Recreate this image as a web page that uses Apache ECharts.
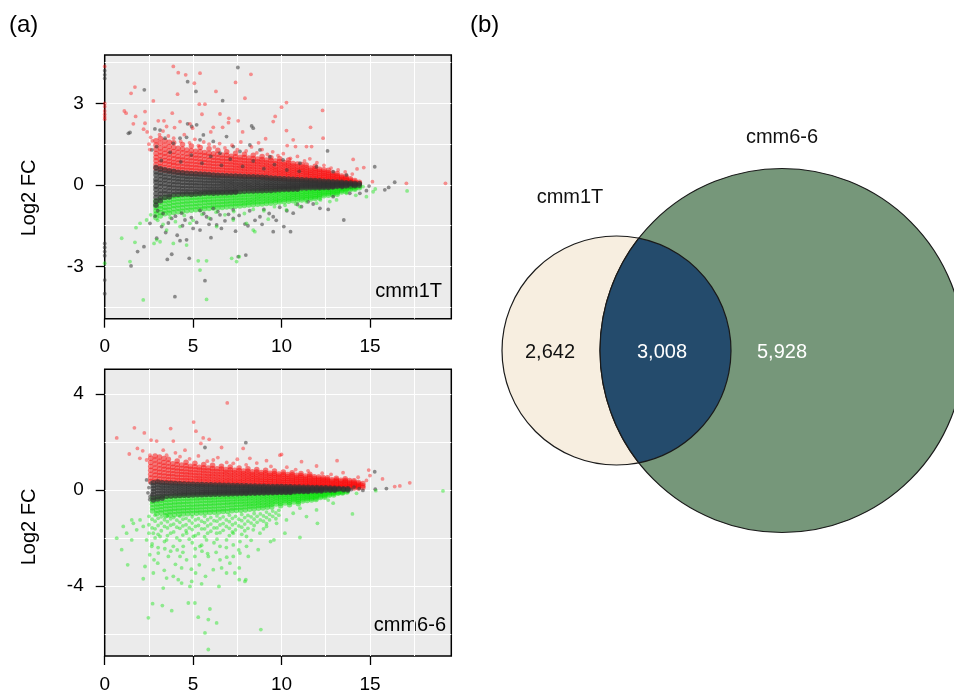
<!DOCTYPE html>
<html><head><meta charset="utf-8">
<script src="https://cdn.jsdelivr.net/npm/echarts@6/dist/echarts.min.js"></script>
<style>html,body{margin:0;padding:0;background:#fff}#c{width:954px;height:691px}</style>
</head><body><div id="c"></div>
<script>
// ---------- axis ticks / grid values ----------
const xTicks = [0, 5, 10, 15];
const xGridVals = [2.5, 5, 7.5, 10, 12.5, 15, 17.5];
const topYTicks = [-3, 0, 3];
const topYGridVals = [-4.5, -3, -1.5, 0, 1.5, 3, 4.5];
const botYTicks = [-4, 0, 4];
const botYGridVals = [-6, -4, -2, 0, 2, 4];
const panelNames = ['cmm1T', 'cmm6-6'];
const yAxisTitle = 'Log2 FC';

// ---------- Venn data ----------
const vennSets = ['cmm1T', 'cmm6-6'];
const vennCounts = [2642, 3008, 5928]; // cmm1T only, both, cmm6-6 only

// ---------- panel (a) top: cmm1T  (A, log2FC) ----------
// dense band columns: [A, [log2FC values]]
const topGrayCols = [
[2.9,[0.64,0.49,0.37,0.21,0.1,-0.05,-0.17,-0.32,-0.46,-0.61,-0.75]],
[3.15,[0.6,0.46,0.34,0.2,0.06,-0.06,-0.2,-0.33,-0.46,-0.58]],
[3.4,[0.56,0.42,0.29,0.18,0.05,-0.08,-0.21,-0.32,-0.46]],
[3.65,[0.52,0.41,0.27,0.15,0.02,-0.09,-0.22,-0.35,-0.44]],
[3.9,[0.5,0.37,0.26,0.13,0.01,-0.11,-0.24,-0.36]],
[4.15,[0.47,0.35,0.23,0.12,0.0,-0.12,-0.24,-0.35]],
[4.4,[0.45,0.34,0.22,0.1,-0.02,-0.13,-0.25,-0.34]],
[4.65,[0.43,0.31,0.21,0.09,-0.02,-0.14,-0.25,-0.33]],
[4.9,[0.42,0.31,0.19,0.08,-0.03,-0.14,-0.26,-0.35]],
[5.15,[0.41,0.3,0.19,0.07,-0.03,-0.15,-0.25,-0.33]],
[5.4,[0.4,0.29,0.18,0.07,-0.04,-0.15,-0.26,-0.32]],
[5.65,[0.39,0.28,0.17,0.06,-0.04,-0.15,-0.25,-0.31]],
[5.9,[0.38,0.27,0.16,0.06,-0.05,-0.15,-0.25,-0.3]],
[6.15,[0.37,0.26,0.16,0.05,-0.05,-0.15,-0.24,-0.31]],
[6.4,[0.36,0.26,0.15,0.05,-0.05,-0.15,-0.24,-0.3]],
[6.65,[0.35,0.25,0.14,0.05,-0.05,-0.14,-0.24,-0.29]],
[6.9,[0.34,0.24,0.14,0.04,-0.06,-0.14,-0.23,-0.29]],
[7.15,[0.33,0.23,0.13,0.04,-0.05,-0.14,-0.23,-0.28]],
[7.4,[0.33,0.22,0.13,0.03,-0.06,-0.15,-0.23,-0.27]],
[7.65,[0.32,0.22,0.12,0.03,-0.06,-0.15,-0.24]],
[7.9,[0.31,0.21,0.12,0.03,-0.06,-0.14,-0.23]],
[8.15,[0.3,0.21,0.11,0.02,-0.06,-0.14,-0.22]],
[8.4,[0.3,0.2,0.11,0.02,-0.07,-0.14,-0.22]],
[8.65,[0.29,0.19,0.1,0.02,-0.06,-0.14,-0.21]],
[8.9,[0.28,0.19,0.1,0.01,-0.07,-0.14,-0.21]],
[9.15,[0.27,0.18,0.09,0.01,-0.06,-0.13,-0.2]],
[9.4,[0.26,0.17,0.09,0.01,-0.06,-0.13,-0.2]],
[9.65,[0.25,0.17,0.08,0.01,-0.06,-0.13,-0.19]],
[9.9,[0.24,0.16,0.08,0.0,-0.06,-0.12,-0.18]],
[10.15,[0.23,0.15,0.07,0.0,-0.06,-0.12,-0.17]],
[10.4,[0.22,0.14,0.07,0.0,-0.06,-0.12,-0.17]],
[10.65,[0.21,0.14,0.06,0.0,-0.06,-0.11,-0.16]],
[10.9,[0.2,0.13,0.06,-0.01,-0.06,-0.11,-0.16]],
[11.15,[0.19,0.12,0.05,-0.01,-0.06,-0.11]],
[11.4,[0.18,0.11,0.05,-0.01,-0.06,-0.11]],
[11.65,[0.17,0.11,0.04,-0.01,-0.06,-0.1]],
[11.9,[0.16,0.1,0.04,-0.01,-0.06,-0.1]],
[12.15,[0.15,0.09,0.03,-0.02,-0.06,-0.1]],
[12.4,[0.14,0.08,0.03,-0.02,-0.05,-0.09]],
[12.65,[0.13,0.08,0.03,-0.02,-0.05,-0.09]],
[12.9,[0.12,0.07,0.02,-0.02,-0.05,-0.08]],
[13.15,[0.11,0.06,0.02,-0.02,-0.06]],
[13.4,[0.1,0.05,0.01,-0.03,-0.07]],
[13.65,[0.08,0.04,0.0,-0.04]],
[13.9,[0.07,0.03,-0.01,-0.05]],
[14.15,[0.05,0.01,-0.03]],
[14.4,[0.04,-0.01]]
];
const topRedCols = [
[2.9,[0.61,0.74,0.89,1.02,1.16,1.31,1.47,1.63]],
[3.15,[0.56,0.68,0.81,0.93,1.07,1.21,1.36,1.53,1.71]],
[3.4,[0.53,0.64,0.78,0.9,1.04,1.17,1.31,1.46,1.63]],
[3.65,[0.5,0.62,0.75,0.87,0.99,1.13,1.26,1.41,1.57]],
[3.9,[0.48,0.59,0.72,0.83,0.96,1.09,1.23,1.38,1.55]],
[4.15,[0.46,0.57,0.69,0.81,0.94,1.06,1.2,1.35]],
[4.4,[0.44,0.56,0.67,0.8,0.92,1.04,1.18,1.32,1.49]],
[4.65,[0.43,0.54,0.66,0.77,0.89,1.02,1.15,1.29]],
[4.9,[0.41,0.53,0.64,0.76,0.88,1.0,1.13,1.27,1.43]],
[5.15,[0.4,0.51,0.63,0.74,0.86,0.98,1.1,1.24]],
[5.4,[0.39,0.5,0.61,0.73,0.84,0.96,1.09,1.22,1.38]],
[5.65,[0.38,0.49,0.6,0.71,0.83,0.94,1.07,1.19]],
[5.9,[0.37,0.48,0.59,0.7,0.81,0.92,1.05,1.17,1.33]],
[6.15,[0.36,0.47,0.57,0.68,0.79,0.9,1.02,1.15]],
[6.4,[0.35,0.46,0.56,0.67,0.78,0.89,1.0,1.13,1.28]],
[6.65,[0.34,0.45,0.55,0.66,0.76,0.87,0.98,1.1]],
[6.9,[0.34,0.44,0.54,0.64,0.75,0.86,0.97,1.09,1.22]],
[7.15,[0.33,0.43,0.53,0.63,0.74,0.84,0.95,1.06]],
[7.4,[0.32,0.42,0.52,0.62,0.72,0.83,0.93,1.04,1.17]],
[7.65,[0.31,0.41,0.51,0.61,0.71,0.81,0.92,1.02]],
[7.9,[0.3,0.4,0.5,0.6,0.7,0.8,0.9,1.01,1.13]],
[8.15,[0.3,0.39,0.49,0.59,0.68,0.78,0.88,0.99]],
[8.4,[0.29,0.38,0.48,0.58,0.67,0.77,0.87,0.97,1.09]],
[8.65,[0.28,0.37,0.47,0.56,0.66,0.76,0.85,0.95]],
[8.9,[0.27,0.36,0.46,0.55,0.65,0.74,0.84,0.94,1.05]],
[9.15,[0.26,0.35,0.44,0.53,0.63,0.72,0.82,0.92]],
[9.4,[0.25,0.34,0.43,0.52,0.61,0.7,0.8,0.9,1.0]],
[9.65,[0.24,0.33,0.42,0.51,0.59,0.68,0.78,0.88]],
[9.9,[0.23,0.32,0.41,0.49,0.58,0.67,0.76,0.86,0.96]],
[10.15,[0.22,0.31,0.39,0.48,0.56,0.65,0.74,0.83]],
[10.4,[0.21,0.3,0.38,0.46,0.55,0.63,0.72,0.81,0.92]],
[10.65,[0.2,0.28,0.37,0.45,0.53,0.61,0.7,0.79]],
[10.9,[0.19,0.27,0.35,0.43,0.51,0.59,0.68,0.77]],
[11.15,[0.18,0.26,0.34,0.42,0.5,0.58,0.66,0.75]],
[11.4,[0.17,0.25,0.33,0.4,0.48,0.56,0.64,0.73]],
[11.65,[0.16,0.24,0.31,0.39,0.46,0.54,0.62]],
[11.9,[0.15,0.23,0.3,0.37,0.45,0.52,0.6,0.69]],
[12.15,[0.14,0.21,0.28,0.35,0.43,0.5,0.58]],
[12.4,[0.13,0.2,0.27,0.34,0.41,0.48,0.56]],
[12.65,[0.12,0.19,0.26,0.32,0.39,0.46,0.54]],
[12.9,[0.11,0.18,0.24,0.31,0.37,0.44]],
[13.15,[0.1,0.16,0.22,0.29,0.35,0.42]],
[13.4,[0.09,0.15,0.21,0.27,0.33]],
[13.65,[0.08,0.14,0.19,0.25,0.31]],
[13.9,[0.07,0.12,0.17,0.23]],
[14.15,[0.06,0.11,0.16]],
[14.4,[0.05,0.1]]
];
const topGreenCols = [
[2.9,[-0.58,-0.71,-0.83,-0.95,-1.07,-1.21]],
[3.15,[-0.52,-0.64,-0.77,-0.88,-1.01,-1.14]],
[3.4,[-0.45,-0.57,-0.69,-0.82,-0.93,-1.06]],
[3.65,[-0.43,-0.55,-0.67,-0.79,-0.92,-1.04]],
[3.9,[-0.41,-0.52,-0.64,-0.76,-0.88,-1.01]],
[4.15,[-0.39,-0.5,-0.62,-0.74,-0.86,-0.99]],
[4.4,[-0.37,-0.48,-0.6,-0.72,-0.84,-0.97]],
[4.65,[-0.36,-0.47,-0.59,-0.7,-0.82,-0.95]],
[4.9,[-0.35,-0.46,-0.57,-0.69,-0.81,-0.93]],
[5.15,[-0.34,-0.45,-0.56,-0.68,-0.79,-0.91]],
[5.4,[-0.33,-0.44,-0.55,-0.66,-0.78,-0.9]],
[5.65,[-0.32,-0.43,-0.54,-0.65,-0.77,-0.88]],
[5.9,[-0.32,-0.42,-0.53,-0.64,-0.75,-0.87]],
[6.15,[-0.31,-0.41,-0.52,-0.63,-0.74,-0.85]],
[6.4,[-0.3,-0.4,-0.51,-0.62,-0.73,-0.84]],
[6.65,[-0.3,-0.4,-0.5,-0.61,-0.72,-0.83]],
[6.9,[-0.29,-0.39,-0.49,-0.6,-0.7,-0.81]],
[7.15,[-0.28,-0.38,-0.48,-0.59,-0.69,-0.8]],
[7.4,[-0.28,-0.38,-0.48,-0.58,-0.68,-0.78]],
[7.65,[-0.27,-0.37,-0.47,-0.57,-0.67,-0.77]],
[7.9,[-0.26,-0.36,-0.46,-0.56,-0.66,-0.76]],
[8.15,[-0.25,-0.35,-0.45,-0.55,-0.65,-0.74]],
[8.4,[-0.25,-0.34,-0.44,-0.54,-0.63,-0.73]],
[8.65,[-0.24,-0.33,-0.43,-0.52,-0.62,-0.71]],
[8.9,[-0.23,-0.32,-0.42,-0.51,-0.61,-0.7]],
[9.15,[-0.22,-0.31,-0.41,-0.5,-0.59,-0.68]],
[9.4,[-0.22,-0.31,-0.4,-0.49,-0.58,-0.67]],
[9.65,[-0.21,-0.3,-0.39,-0.48,-0.56,-0.65]],
[9.9,[-0.2,-0.29,-0.37,-0.46,-0.55,-0.63]],
[10.15,[-0.19,-0.28,-0.36,-0.45,-0.53,-0.62]],
[10.4,[-0.18,-0.27,-0.35,-0.44,-0.52,-0.6]],
[10.65,[-0.18,-0.26,-0.34,-0.42,-0.5,-0.58]],
[10.9,[-0.17,-0.25,-0.33,-0.41,-0.49,-0.57]],
[11.15,[-0.16,-0.24,-0.32,-0.4,-0.48,-0.55]],
[11.4,[-0.15,-0.23,-0.31,-0.38,-0.46,-0.53]],
[11.65,[-0.15,-0.22,-0.3,-0.37,-0.45,-0.52]],
[11.9,[-0.14,-0.21,-0.28,-0.36,-0.43,-0.5]],
[12.15,[-0.13,-0.2,-0.27,-0.34,-0.41,-0.48]],
[12.4,[-0.12,-0.19,-0.26,-0.33,-0.4]],
[12.65,[-0.11,-0.18,-0.25,-0.31,-0.38]],
[12.9,[-0.1,-0.17,-0.23,-0.3,-0.36]],
[13.15,[-0.09,-0.15,-0.22,-0.28,-0.34]],
[13.4,[-0.08,-0.14,-0.2,-0.26]],
[13.65,[-0.07,-0.13,-0.18,-0.24]],
[13.9,[-0.07,-0.12,-0.17]],
[14.15,[-0.06,-0.11,-0.16]],
[14.4,[-0.05,-0.1]]
];
// scattered points: [A, log2FC]
const topGrayPts = [
[0,4.2],[0,4.05],[0,3.92],[0,-2.15],[0,-2.3],[0,-2.45],[0,-2.6],[0,-3.5],[0,-4.0],
[7.53,4.32],[4.69,3.8],[5.16,3.44],[2.24,3.5],[6.67,3.1],[1.34,1.9],[1.43,1.93],[2.84,2.06],[4.69,2.25],[5.2,2.21],[8.31,2.17],[8.4,2.09],[12.6,1.25],[15.27,0.67],[16.4,0.1],[16.06,-0.09],[15.84,-0.18],[14.95,-0.04],
[13.52,-1.29],[12.64,-0.9],[10.51,-1.72],[9.53,-1.72],[10.13,-1.53],[7.98,-2.58],[7.55,-2.64],[6.01,-1.94],[5.67,-3.52],[4.78,-2.7],[3.79,-2.55],[3.54,-2.74],[3.97,-4.11],[2.22,-2.27],[1.86,-2.45],[1.49,-2.98],[4.63,-2.02],[4.26,-2.05],[2.94,-1.96],[3.22,-1.53],[2.56,-1.41],[5.39,-1.66],[6.33,-1.47],[7.27,-1.23],[8.78,-1.17],[7.93,-1.44],[4.54,-1.29],[3.79,-1.23],[11.13,-0.8],[11.79,-0.7],[12.92,-0.43],[13.86,-0.31],[14.43,-0.31],[14.8,-0.21],[12.17,-0.86],[10.66,-1.04],[9.53,-1.17],[6.52,-1.1],[5.76,-1.17],[4.35,-1.04],[5.39,-0.94],[7.27,-0.92],[6.14,-0.86],
[4.26,1.72],[4.63,1.75],[5.39,1.66],[6.14,1.6],[7.27,1.41],[8.21,1.47],[8.78,1.29],[9.34,1.04],[10.09,0.92],[11.04,0.8],[11.98,0.67],[12.92,0.49],[13.67,0.37],[3.13,2.02],[3.41,1.72],[2.94,1.41],[2.66,1.29],[3.88,1.53],[4.92,2.15],[5.58,1.84],[6.89,1.78],[7.65,1.23],[6.52,1.17],
[3.3,-1.05],[3.6,-1.4],[4.0,-1.15],[4.4,-1.5],[4.9,-1.2],[5.2,-1.38],[5.6,-1.05],[6.0,-1.25],[6.4,-0.98],[6.8,-1.32],[7.0,-1.08],[7.6,-1.12],[8.2,-0.95],[8.5,-1.3],[9.0,-0.9],[9.3,-1.05],[9.9,-0.82],[10.3,-0.95],[10.9,-0.72],[11.5,-0.62],[3.0,-0.95],[2.85,-1.15],[3.45,-1.75],[4.1,-1.85],[5.0,-1.6],[5.9,-1.45],[6.6,-1.6],[7.4,-1.7],[8.1,-1.5],[8.9,-1.45],[9.7,-1.3],
[3.2,0.9],[3.7,1.2],[4.3,0.85],[4.9,1.1],[5.5,0.8],[6.0,1.05],[6.6,0.72],[7.1,0.95],[7.8,0.68],[8.4,0.88],[9.0,0.6],[9.6,0.75],[10.3,0.55],[11.0,0.5]
];
const topRedPts = [
[0,4.36],[0,3.0],[0,2.88],[0,2.72],[0,2.6],[0,2.5],[0,2.42],
[3.88,4.36],[4.16,4.13],[4.58,4.05],[5.39,4.11],[5.07,3.74],[8.27,4.07],[7.93,3.19],[7.4,3.77],[6.29,3.44],[4.12,3.34],[5.35,2.97],[5.67,2.97],[2.75,3.09],[1.71,3.6],[1.49,3.37],[1.11,2.72],[1.21,2.64],[1.75,2.52],[1.62,2.25],[2.28,2.7],[2.28,2.27],[3.03,2.36],[3.35,2.36],[3.82,2.64],[3.95,2.11],[4.26,2.33],[4.82,2.25],[4.97,2.09],[5.5,2.6],[6.52,2.61],[7.02,2.45],[7.0,2.29],[7.55,2.36],[6.67,2.12],[6.14,2.12],[10.0,2.86],[10.28,3.03],[9.64,2.52],[9.53,2.33],[12.32,2.74],[11.64,2.12],[12.35,1.72],[10.28,2.0],[10.66,1.66],[10.32,1.45],[10.79,1.41],[11.41,1.41],[11.7,1.41],[14.05,0.94],[14.27,0.59],[14.65,0.64],[15.14,0.12],[17.06,0.06],[19.27,0.06],
[2.4,1.95],[2.6,1.75],[2.5,1.5],[2.7,1.62],[3.1,1.85],[3.3,1.98],[3.6,1.8],[3.9,1.72],[4.3,1.6],[4.5,1.85],[4.8,1.55],[5.1,1.68],[5.3,1.45],[5.6,1.58],[5.9,1.5],[6.2,1.4],[6.5,1.52],[6.8,1.36],[7.2,1.46],[7.5,1.3],[7.7,1.58],[8.0,1.25],[8.3,1.4],[8.6,1.18],[8.9,1.3],[9.2,1.12],[9.5,1.22],[9.8,1.08],[10.1,1.15],[10.5,0.98],[10.9,1.05],[11.3,0.88],[11.6,0.96],[12.0,0.82],[12.4,0.72],[12.8,0.62],[13.2,0.55],[13.6,0.48],[14.0,0.4],[2.2,2.05],[3.5,2.15],[2.55,1.3],[7.8,1.95],[9.1,1.7],[6.0,1.95],[8.7,1.55]
];
const topGreenPts = [
[0,-2.88],[0.96,-1.96],[1.71,-2.11],[1.43,-2.82],[2.18,-4.23],[5.76,-4.21],[5.39,-3.13],[5.29,-2.79],[5.76,-2.79],[7.18,-2.7],[7.46,-2.82],[7.61,-2.64],[8.49,-1.72],[8.4,-1.66],[9.25,-1.26],[3.13,-2.09],[2.79,-2.15],[2.94,-2.02],[3.88,-2.15],[4.63,-2.21],[1.77,-1.57],[2.0,-1.41],[2.37,-1.29],[13.3,-0.18],[13.67,-0.31],[14.8,-0.43],[15.18,-0.25],[17.1,-0.22],[14.61,-0.06],[12.73,-0.61],[13.11,-0.55],[11.98,-0.67],[11.04,-0.8],[10.28,-0.92],[8.02,-1.41],[7.27,-1.29],[6.33,-1.53],[4.82,-1.41],[4.26,-1.53],[3.5,-1.66],
[2.6,-1.1],[3.0,-1.3],[3.3,-1.45],[3.7,-1.2],[4.0,-1.35],[4.5,-1.12],[5.0,-1.3],[5.5,-1.08],[5.9,-1.22],[6.3,-1.0],[6.8,-1.1],[7.3,-0.98],[7.9,-1.05],[8.4,-0.9],[9.0,-0.95],[9.6,-0.8],[10.2,-0.75],[10.8,-0.7],[11.4,-0.62],[12.2,-0.55],[15.3,-0.15],[14.2,-0.38],[13.9,-0.12]
];

// ---------- panel (a) bottom: cmm6-6 ----------
const botGrayCols = [
[2.75,[0.3,0.18,0.06,-0.06,-0.18,-0.3,-0.42]],
[3.0,[0.33,0.21,0.09,-0.03,-0.15,-0.27,-0.38]],
[3.25,[0.3,0.19,0.08,-0.03,-0.14,-0.25,-0.34]],
[3.5,[0.29,0.18,0.07,-0.04,-0.15,-0.26]],
[3.75,[0.28,0.17,0.07,-0.04,-0.14,-0.25]],
[4.0,[0.27,0.17,0.06,-0.04,-0.14,-0.24]],
[4.25,[0.26,0.16,0.06,-0.04,-0.14,-0.23]],
[4.5,[0.25,0.15,0.05,-0.05,-0.14,-0.22]],
[4.75,[0.24,0.15,0.05,-0.04,-0.13,-0.22]],
[5.0,[0.24,0.14,0.05,-0.04,-0.13,-0.21]],
[5.25,[0.23,0.14,0.05,-0.04,-0.13,-0.2]],
[5.5,[0.23,0.14,0.05,-0.04,-0.12,-0.2]],
[5.75,[0.22,0.13,0.04,-0.04,-0.12,-0.19]],
[6.0,[0.22,0.13,0.04,-0.04,-0.12,-0.19]],
[6.25,[0.21,0.12,0.04,-0.04,-0.12,-0.18]],
[6.5,[0.21,0.12,0.04,-0.04,-0.11,-0.18]],
[6.75,[0.2,0.12,0.04,-0.04,-0.11,-0.17]],
[7.0,[0.2,0.11,0.03,-0.04,-0.11,-0.17]],
[7.25,[0.19,0.11,0.03,-0.04,-0.11,-0.16]],
[7.5,[0.19,0.11,0.03,-0.04,-0.1,-0.16]],
[7.75,[0.18,0.1,0.03,-0.04,-0.1,-0.15]],
[8.0,[0.18,0.1,0.03,-0.04,-0.1,-0.15]],
[8.25,[0.17,0.1,0.03,-0.03,-0.09,-0.14]],
[8.5,[0.17,0.09,0.03,-0.03,-0.09,-0.14]],
[8.75,[0.16,0.09,0.02,-0.03,-0.09,-0.13]],
[9.0,[0.16,0.09,0.02,-0.03,-0.08,-0.13]],
[9.25,[0.15,0.08,0.02,-0.03,-0.08,-0.12]],
[9.5,[0.15,0.08,0.02,-0.03,-0.08,-0.12]],
[9.75,[0.14,0.08,0.02,-0.03,-0.08,-0.11]],
[10.0,[0.14,0.07,0.02,-0.03,-0.07,-0.11]],
[10.25,[0.13,0.07,0.02,-0.03,-0.07,-0.1]],
[10.5,[0.13,0.07,0.01,-0.03,-0.07,-0.1]],
[10.75,[0.12,0.06,0.01,-0.03,-0.07]],
[11.0,[0.12,0.06,0.01,-0.03,-0.06]],
[11.25,[0.11,0.06,0.01,-0.03,-0.06]],
[11.5,[0.11,0.05,0.01,-0.03,-0.06]],
[11.75,[0.1,0.05,0.0,-0.04]],
[12.0,[0.1,0.05,0.0,-0.04]],
[12.25,[0.09,0.04,0.0,-0.04]],
[12.5,[0.09,0.04,-0.01]],
[12.75,[0.08,0.03,-0.01]],
[13.0,[0.07,0.03,-0.01]],
[13.25,[0.06,0.02]],
[13.5,[0.05,0.01]],
[13.75,[0.05,0.0]]
];
const botRedCols = [
[2.6,[0.35,0.5,0.66,0.82,0.98,1.15,1.32]],
[2.85,[0.34,0.48,0.62,0.77,0.92,1.08,1.25,1.42]],
[3.1,[0.33,0.46,0.6,0.74,0.89,1.04,1.2,1.37]],
[3.35,[0.32,0.45,0.58,0.72,0.86,1.0,1.15,1.31]],
[3.6,[0.31,0.43,0.56,0.69,0.83,0.97,1.12,1.28]],
[3.85,[0.3,0.42,0.55,0.68,0.81,0.95,1.09]],
[4.1,[0.29,0.41,0.53,0.66,0.79,0.92,1.06,1.21]],
[4.35,[0.28,0.4,0.52,0.64,0.77,0.9,1.04]],
[4.6,[0.28,0.39,0.51,0.63,0.75,0.88,1.01,1.16]],
[4.85,[0.27,0.38,0.5,0.62,0.74,0.86,0.99]],
[5.1,[0.26,0.37,0.49,0.6,0.72,0.84,0.97,1.11]],
[5.35,[0.26,0.37,0.48,0.59,0.71,0.83,0.95]],
[5.6,[0.25,0.36,0.47,0.58,0.7,0.81,0.93,1.06]],
[5.85,[0.25,0.35,0.46,0.57,0.68,0.8,0.92]],
[6.1,[0.24,0.34,0.45,0.56,0.67,0.78,0.9,1.03]],
[6.35,[0.24,0.34,0.44,0.55,0.66,0.77,0.88]],
[6.6,[0.23,0.33,0.43,0.54,0.65,0.76,0.87,0.99]],
[6.85,[0.23,0.33,0.43,0.53,0.64,0.74,0.85]],
[7.1,[0.22,0.32,0.42,0.52,0.62,0.73,0.84,0.96]],
[7.35,[0.22,0.31,0.41,0.51,0.61,0.72,0.82]],
[7.6,[0.21,0.31,0.4,0.5,0.6,0.7,0.81,0.92]],
[7.85,[0.21,0.3,0.4,0.49,0.59,0.69,0.79]],
[8.1,[0.2,0.29,0.39,0.48,0.58,0.68,0.78,0.89]],
[8.35,[0.2,0.29,0.38,0.47,0.57,0.66,0.76]],
[8.6,[0.19,0.28,0.37,0.46,0.55,0.65,0.75,0.85]],
[8.85,[0.19,0.27,0.36,0.45,0.54,0.64,0.73]],
[9.1,[0.18,0.27,0.35,0.44,0.53,0.62,0.72,0.82]],
[9.35,[0.18,0.26,0.35,0.43,0.52,0.61,0.7]],
[9.6,[0.17,0.25,0.34,0.42,0.51,0.6,0.69,0.79]],
[9.85,[0.17,0.25,0.33,0.41,0.5,0.58,0.67]],
[10.1,[0.16,0.24,0.32,0.4,0.48,0.57,0.66,0.75]],
[10.35,[0.16,0.23,0.31,0.39,0.47,0.56,0.64]],
[10.6,[0.15,0.23,0.3,0.38,0.46,0.54,0.63,0.72]],
[10.85,[0.15,0.22,0.29,0.37,0.45,0.53,0.61]],
[11.1,[0.14,0.21,0.29,0.36,0.44,0.52,0.6,0.69]],
[11.35,[0.14,0.21,0.28,0.35,0.43,0.5,0.58]],
[11.6,[0.13,0.2,0.27,0.34,0.41,0.49,0.57,0.66]],
[11.85,[0.13,0.19,0.26,0.33,0.4,0.48,0.55]],
[12.1,[0.12,0.19,0.25,0.32,0.39,0.46,0.54]],
[12.35,[0.12,0.18,0.25,0.31,0.38,0.45,0.52]],
[12.6,[0.11,0.17,0.24,0.3,0.37,0.44,0.51]],
[12.85,[0.11,0.17,0.23,0.29,0.36,0.43]],
[13.1,[0.1,0.16,0.22,0.28,0.35,0.42,0.49]],
[13.35,[0.1,0.15,0.21,0.27,0.34,0.41]],
[13.6,[0.09,0.15,0.21,0.27,0.33,0.4,0.47]],
[13.85,[0.09,0.14,0.2,0.26,0.32,0.39]],
[14.1,[0.08,0.14,0.2,0.26,0.32,0.38]],
[14.35,[0.08,0.13,0.19,0.25,0.31]],
[14.6,[0.1,0.18,0.27]]
];
const botGreenCols = [
[2.7,[-0.34,-0.47,-0.6,-0.74,-0.88]],
[2.95,[-0.32,-0.45,-0.58,-0.71,-0.85,-0.99]],
[3.2,[-0.3,-0.43,-0.56,-0.69,-0.82,-0.96]],
[3.45,[-0.28,-0.4,-0.53,-0.66,-0.79,-0.93,-1.07]],
[3.7,[-0.27,-0.39,-0.52,-0.65,-0.78,-0.91,-1.04]],
[3.95,[-0.25,-0.37,-0.5,-0.63,-0.76,-0.89,-1.03]],
[4.2,[-0.24,-0.36,-0.49,-0.62,-0.75,-0.88,-1.01]],
[4.45,[-0.23,-0.35,-0.48,-0.61,-0.74,-0.87,-1.0]],
[4.7,[-0.22,-0.34,-0.47,-0.6,-0.73,-0.86,-0.99]],
[4.95,[-0.21,-0.33,-0.46,-0.59,-0.72,-0.85,-0.98]],
[5.2,[-0.21,-0.33,-0.45,-0.58,-0.71,-0.84,-0.97]],
[5.45,[-0.2,-0.32,-0.44,-0.57,-0.7,-0.83,-0.96]],
[5.7,[-0.2,-0.31,-0.43,-0.56,-0.69,-0.82,-0.95]],
[5.95,[-0.19,-0.31,-0.43,-0.55,-0.68,-0.81,-0.94]],
[6.2,[-0.19,-0.3,-0.42,-0.54,-0.67,-0.8,-0.93]],
[6.45,[-0.18,-0.29,-0.41,-0.53,-0.66,-0.79,-0.92]],
[6.7,[-0.18,-0.29,-0.4,-0.52,-0.65,-0.78,-0.9]],
[6.95,[-0.17,-0.28,-0.39,-0.51,-0.63,-0.76,-0.9]],
[7.2,[-0.17,-0.27,-0.38,-0.5,-0.62,-0.75,-0.87]],
[7.45,[-0.16,-0.27,-0.38,-0.49,-0.61,-0.73,-0.86]],
[7.7,[-0.16,-0.26,-0.37,-0.48,-0.6,-0.72,-0.84]],
[7.95,[-0.15,-0.25,-0.36,-0.47,-0.58,-0.7,-0.83]],
[8.2,[-0.15,-0.25,-0.35,-0.46,-0.57,-0.68,-0.8]],
[8.45,[-0.14,-0.24,-0.34,-0.45,-0.56,-0.67,-0.79]],
[8.7,[-0.14,-0.23,-0.33,-0.44,-0.54,-0.65,-0.76]],
[8.95,[-0.13,-0.23,-0.32,-0.42,-0.53,-0.64,-0.75]],
[9.2,[-0.13,-0.22,-0.31,-0.41,-0.51,-0.62,-0.72]],
[9.45,[-0.12,-0.21,-0.3,-0.4,-0.5,-0.6,-0.71]],
[9.7,[-0.12,-0.2,-0.29,-0.38,-0.48,-0.58]],
[9.95,[-0.11,-0.2,-0.28,-0.37,-0.46,-0.56,-0.66]],
[10.2,[-0.11,-0.19,-0.27,-0.36,-0.45,-0.54]],
[10.45,[-0.1,-0.18,-0.26,-0.34,-0.43,-0.52,-0.62]],
[10.7,[-0.1,-0.17,-0.25,-0.33,-0.41,-0.5]],
[10.95,[-0.09,-0.16,-0.24,-0.32,-0.4,-0.48,-0.57]],
[11.2,[-0.09,-0.16,-0.23,-0.3,-0.38,-0.46]],
[11.45,[-0.08,-0.15,-0.22,-0.29,-0.36,-0.44]],
[11.7,[-0.08,-0.14,-0.21,-0.28,-0.35,-0.42]],
[11.95,[-0.07,-0.13,-0.2,-0.26,-0.33,-0.4]],
[12.2,[-0.07,-0.13,-0.19,-0.25,-0.31]],
[12.45,[-0.06,-0.12,-0.18,-0.24,-0.3]],
[12.7,[-0.06,-0.11,-0.17,-0.22]],
[12.95,[-0.05,-0.1,-0.15,-0.21]],
[13.2,[-0.05,-0.1,-0.14]],
[13.45,[-0.04,-0.09,-0.13]],
[13.7,[-0.04,-0.08]]
];
const botGreenMidCols = [
[2.5,[-1.1,-1.45,-1.8]],[2.85,[-1.05,-1.3,-1.62,-2.0]],[3.2,[-1.12,-1.38,-1.7]],[3.55,[-1.08,-1.32,-1.58,-1.9]],
[3.9,[-1.15,-1.42,-1.75]],[4.25,[-1.1,-1.35,-1.6,-2.1]],[4.6,[-1.18,-1.45,-1.7]],[4.95,[-1.12,-1.38,-1.65,-2.2]],
[5.3,[-1.2,-1.48,-1.82]],[5.65,[-1.1,-1.36,-1.62,-1.95]],[6.0,[-1.15,-1.42,-1.72]],[6.35,[-1.08,-1.3,-1.58,-2.05]],
[6.7,[-1.12,-1.4,-1.68]],[7.05,[-1.05,-1.32,-1.6,-1.9]],[7.4,[-1.1,-1.38,-1.66]],[7.75,[-1.02,-1.28,-1.55,-1.85]],
[8.1,[-1.06,-1.3,-1.6]],[8.45,[-0.98,-1.22,-1.48]],[8.8,[-1.0,-1.25]],[9.15,[-0.92,-1.15,-1.4]],[9.5,[-0.88,-1.1]],[9.85,[-0.85,-1.05]],
[2.68,[-1.22,-1.58,-2.25]],[3.02,[-1.18,-1.48,-1.85,-2.4]],[3.38,[-1.24,-1.52,-2.15]],[3.73,[-1.2,-1.47,-1.8,-2.55]],
[4.08,[-1.26,-1.55,-2.0]],[4.42,[-1.22,-1.5,-1.88,-2.6]],[4.78,[-1.28,-1.58,-2.05]],[5.12,[-1.25,-1.52,-1.9,-2.45]],
[5.48,[-1.3,-1.62,-2.3]],[5.82,[-1.24,-1.5,-1.8,-2.65]],[6.18,[-1.28,-1.58,-2.2]],[6.52,[-1.2,-1.46,-1.78]],
[6.88,[-1.25,-1.52,-2.4]],[7.22,[-1.18,-1.45,-1.75]],[7.58,[-1.22,-1.5,-2.5]],[7.92,[-1.15,-1.42,-1.7]],
[8.28,[-1.12,-1.38,-2.1]],[8.62,[-1.1,-1.35]],[8.98,[-1.08,-1.3,-1.62]],[9.32,[-1.02,-1.25]],[9.68,[-0.96,-1.2]]
];
const botGrayPts = [
[5.67,1.77],[7.98,1.97],[2.37,0.42],[2.56,-0.28],[2.5,0.1],[2.45,-0.12],[15.27,0.76],[15.3,0.03],[15.93,0.06],[14.39,0.06],[14.1,0.12],[13.95,0.02],[14.6,-0.02],[2.6,0.28],[2.55,-0.4],[2.65,-0.2]
];
const botRedPts = [
[0.68,2.17],[1.68,2.59],[1.39,1.5],[1.85,1.73],[2.15,1.63],[2.24,2.38],[2.62,2.08],[2.94,2.04],[3.73,2.56],[3.88,2.04],[3.31,1.66],[5.03,2.83],[5.16,2.45],[5.57,2.17],[5.91,2.11],[5.44,1.94],[6.61,1.77],[6.93,3.63],[7.83,1.73],[9.91,1.45],[10.0,1.48],[8.21,1.32],[9.15,1.22],[13.14,1.22],[11.98,1.0],[11.13,1.18],[14.93,0.83],[15.71,0.46],[16.4,0.14],[16.69,0.17],[17.25,0.3],[14.33,0.53],[13.48,0.72],[4.54,1.66],[4.26,1.39],[6.14,1.25],[7.27,1.11],[2.37,1.25],[1.99,1.32],[2.56,1.45],
[3.5,1.45],[4.0,1.55],[4.8,1.3],[5.3,1.42],[5.8,1.2],[6.4,1.35],[6.9,1.15],[7.5,1.28],[8.0,1.05],[8.6,1.12],[9.4,0.98],[10.3,0.95],[10.8,0.85],[11.5,0.8],[12.3,0.7],[12.8,0.65],[14.8,0.4],[15.0,0.6],[14.5,0.25]
];
const botGreenPts = [
[0.68,-2.01],[0.96,-2.49],[1.05,-1.52],[1.24,-1.8],[1.3,-3.12],[1.53,-2.08],[1.62,-1.39],[2.18,-3.7],[2.28,-3.19],[2.47,-5.33],[2.71,-4.74],[2.75,-3.46],[2.79,-2.91],[3.26,-4.82],[3.31,-4.09],[3.37,-3.35],[3.5,-3.67],[3.79,-5.03],[3.88,-3.6],[4.16,-3.74],[4.35,-3.25],[4.35,-3.88],[4.73,-4.71],[4.82,-4.02],[4.92,-3.81],[5.1,-4.71],[5.14,-3.46],[5.29,-5.3],[5.35,-3.12],[5.48,-3.91],[5.67,-5.96],[5.86,-6.65],[5.86,-5.4],[5.95,-4.96],[6.33,-5.54],[6.14,-3.32],[6.46,-4.02],[6.61,-3.25],[6.89,-3.46],[7.08,-3.05],[7.27,-2.77],[7.36,-3.46],[7.61,-3.25],[7.61,-3.74],[7.93,-3.81],[7.98,-3.74],[7.65,-2.63],[8.02,-2.35],[8.68,-2.49],[8.83,-5.82],[9.38,-2.15],[9.57,-2.08],[10.19,-1.8],[11.04,-1.98],[12.03,-1.39],[14.01,-1.0],[15.33,-0.03],[19.13,-0.04],[14.24,-0.14],[12.92,-0.55],[12.64,-0.42],[13.3,-0.11],
[11.41,-1.11],[10.66,-0.97],[11.04,-0.76],[11.98,-0.83],[10.28,-1.25],[9.72,-1.39],[9.15,-1.52],[8.78,-1.8],[8.4,-1.66],[8.02,-1.94],[7.27,-1.8],[6.89,-2.08],[6.52,-2.35],[6.33,-1.8],[5.76,-2.08],[5.39,-2.35],[5.01,-1.94],[4.63,-1.8],[4.44,-2.35],[4.26,-2.77],[3.88,-2.35],[3.5,-2.08],[3.13,-1.94],[2.75,-1.8],[2.37,-2.08],[2.66,-2.35],[3.03,-2.63],[3.6,-2.77],[4.63,-2.91],[5.1,-2.77],[5.86,-2.77],[6.52,-2.91],[7.27,-2.29],[8.12,-2.77],[7.65,-2.15],[2.0,-1.25],[2.18,-1.52],[1.81,-1.66],[1.53,-1.25],
[3.0,-3.05],[4.0,-3.1],[4.9,-3.3],[5.7,-3.6],[6.3,-2.6],[6.9,-2.8],[4.1,-2.5],[5.5,-2.55],[3.4,-2.45],[2.55,-2.7]
];

// ---------- Venn layout (units of its own hidden axes) ----------
const VENN_GEOM = { small: { cx: 616.5, cy: 350.5, r: 114.5 }, big: { cx: 782, cy: 350.5, r: 182 } };
const VENN_COUNT_POS = [[550, 352], [662, 352], [782, 352]];
const VENN_SET_POS = [[570, 197], [782, 137]];

// ---------- helpers ----------
const FONT = 'Liberation Sans, Arial, Helvetica, sans-serif';
function flat(cols) { return cols.flatMap(c => c[1].map(y => [c[0], y])); }
const DENSE = { gray: 'rgba(50,50,50,0.85)', red: 'rgba(250,0,0,0.62)', green: 'rgba(0,225,0,0.6)' };
const SPARSE = { gray: 'rgba(60,60,60,0.7)', red: 'rgba(255,20,20,0.55)', green: 'rgba(20,230,20,0.55)' };

function mainX(gi) {
  return { gridIndex: gi, type: 'value', min: 0, max: 19.6,
    axisLine: { show: false, onZero: false }, splitLine: { show: false },
    axisTick: { show: true, customValues: xTicks, length: 9, lineStyle: { color: '#000', width: 1.3 } },
    axisLabel: { customValues: xTicks, color: '#000', fontSize: 19, fontFamily: FONT, margin: 19 } };
}
function lineX(gi) {
  return { gridIndex: gi, type: 'value', min: 0, max: 19.6, position: 'top',
    axisLine: { show: false, onZero: false }, axisTick: { show: false, customValues: xGridVals },
    axisLabel: { show: false, customValues: xGridVals },
    splitLine: { show: true, lineStyle: { color: '#ffffff', width: 1 } } };
}
function mainY(gi, mn, mx, ticks) {
  return { gridIndex: gi, type: 'value', min: mn, max: mx, position: 'left',
    axisLine: { show: false, onZero: false }, splitLine: { show: false },
    axisTick: { show: true, customValues: ticks, length: 9, lineStyle: { color: '#000', width: 1.3 } },
    axisLabel: { customValues: ticks, color: '#000', fontSize: 19, fontFamily: FONT, margin: 21 } };
}
function lineY(gi, mn, mx, vals) {
  return { gridIndex: gi, type: 'value', min: mn, max: mx, position: 'right',
    axisLine: { show: false, onZero: false }, axisTick: { show: false, customValues: vals },
    axisLabel: { show: false, customValues: vals },
    splitLine: { show: true, lineStyle: { color: '#ffffff', width: 1 } } };
}
function sc(xi, data, color, size) {
  return { type: 'scatter', xAxisIndex: xi, yAxisIndex: xi, data: data, symbolSize: size,
    itemStyle: { color: color }, silent: true, animation: false, clip: true, large: false };
}

function renderVenn(params, api) {
  const i = params.dataIndex;
  const s = VENN_GEOM.small, b = VENN_GEOM.big;
  const cS = api.coord([s.cx, s.cy]), cB = api.coord([b.cx, b.cy]);
  const rS = api.size([s.r, 0])[0], rB = api.size([b.r, 0])[0];
  const children = [];
  const stroke = '#1a1a1a';
  if (i === 0) {
    children.push({ type: 'circle', shape: { cx: cS[0], cy: cS[1], r: rS }, z2: 1,
      style: { fill: '#F7EEE0', stroke: stroke, lineWidth: 1.2 } });
  } else if (i === 2) {
    children.push({ type: 'circle', shape: { cx: cB[0], cy: cB[1], r: rB }, z2: 2,
      style: { fill: '#76977A', stroke: stroke, lineWidth: 1.2 } });
  } else {
    const d = Math.hypot(b.cx - s.cx, b.cy - s.cy);
    const a = (d * d + s.r * s.r - b.r * b.r) / (2 * d);
    const h = Math.sqrt(s.r * s.r - a * a);
    const ux = (b.cx - s.cx) / d, uy = (b.cy - s.cy) / d;
    const mx = s.cx + a * ux, my = s.cy + a * uy;
    const p1 = api.coord([mx + h * uy, my - h * ux]);
    const p2 = api.coord([mx - h * uy, my + h * ux]);
    const pd = 'M' + p1[0] + ' ' + p1[1] + ' A' + rS + ' ' + rS + ' 0 0 1 ' + p2[0] + ' ' + p2[1] +
      ' A' + rB + ' ' + rB + ' 0 0 1 ' + p1[0] + ' ' + p1[1] + ' Z';
    children.push({ type: 'path', shape: { pathData: pd }, z2: 3,
      style: { fill: '#244B6C', stroke: stroke, lineWidth: 1.2 } });
  }
  const lp = api.coord(VENN_COUNT_POS[i]);
  children.push({ type: 'text', x: lp[0], y: lp[1], z2: 10,
    style: { text: vennCounts[i].toLocaleString('en-US'), fill: i === 0 ? '#111' : '#ffffff',
      font: '20px ' + FONT, align: 'center', verticalAlign: 'middle', textAlign: 'center', textVerticalAlign: 'middle' } });
  if (i === 0 || i === 2) {
    const si = i === 0 ? 0 : 1;
    const sp = api.coord(VENN_SET_POS[si]);
    children.push({ type: 'text', x: sp[0], y: sp[1], z2: 10,
      style: { text: vennSets[si], fill: '#111', font: '20px ' + FONT,
        align: 'center', verticalAlign: 'middle', textAlign: 'center', textVerticalAlign: 'middle' } });
  }
  return { type: 'group', children: children };
}

const chart = echarts.init(document.getElementById('c'), null, { renderer: 'canvas' });
const gridBase = { show: true, backgroundColor: '#EBEBEB', borderColor: '#000', borderWidth: 1.5, outerBoundsMode: 'none', containLabel: false };
const option = {
  animation: false,
  backgroundColor: '#ffffff',
  title: [
    { text: '(a)', left: 9, top: 13, padding: 0, textStyle: { fontSize: 24, fontWeight: 'normal', color: '#000', fontFamily: FONT } },
    { text: '(b)', left: 470, top: 13, padding: 0, textStyle: { fontSize: 24, fontWeight: 'normal', color: '#000', fontFamily: FONT } }
  ],
  grid: [
    Object.assign({ left: 104.7, top: 55, width: 346.6, height: 263.7 }, gridBase),
    Object.assign({ left: 104.7, top: 369.3, width: 346.6, height: 286.7 }, gridBase),
    { show: false, left: 470, top: 0, width: 484, height: 691, outerBoundsMode: 'none', containLabel: false }
  ],
  xAxis: [
    mainX(0), lineX(0), mainX(1), lineX(1),
    { gridIndex: 2, type: 'value', min: 470, max: 954, show: false }
  ],
  yAxis: [
    mainY(0, -4.92, 4.78, topYTicks), lineY(0, -4.92, 4.78, topYGridVals),
    mainY(1, -6.92, 5.03, botYTicks), lineY(1, -6.92, 5.03, botYGridVals),
    { gridIndex: 2, type: 'value', min: 0, max: 691, inverse: true, show: false }
  ],
  graphic: [
    { type: 'text', x: 29, y: 198, rotation: Math.PI / 2, style: { text: yAxisTitle, fill: '#000', font: '20px ' + FONT, align: 'center', verticalAlign: 'middle', textAlign: 'center', textVerticalAlign: 'middle' } },
    { type: 'text', x: 29, y: 527, rotation: Math.PI / 2, style: { text: yAxisTitle, fill: '#000', font: '20px ' + FONT, align: 'center', verticalAlign: 'middle', textAlign: 'center', textVerticalAlign: 'middle' } },
    { type: 'text', x: 442, y: 291, style: { text: panelNames[0], fill: '#000', font: '20px ' + FONT, align: 'right', verticalAlign: 'middle', textAlign: 'right', textVerticalAlign: 'middle' } },
    { type: 'text', x: 446, y: 625, style: { text: panelNames[1], fill: '#000', font: '20px ' + FONT, align: 'right', verticalAlign: 'middle', textAlign: 'right', textVerticalAlign: 'middle' } }
  ],
  series: [
    sc(0, flat(topRedCols), DENSE.red, 5.5),
    sc(0, flat(topGreenCols), DENSE.green, 5.5),
    sc(0, flat(topGrayCols), DENSE.gray, 5.5),
    sc(0, topGrayPts, SPARSE.gray, 3.8),
    sc(0, topRedPts, SPARSE.red, 3.8),
    sc(0, topGreenPts, SPARSE.green, 3.8),
    sc(2, flat(botRedCols), DENSE.red, 5.5),
    sc(2, flat(botGreenCols), DENSE.green, 5.5),
    sc(2, flat(botGrayCols), DENSE.gray, 5.5),
    sc(2, botGrayPts, SPARSE.gray, 3.8),
    sc(2, botRedPts, SPARSE.red, 3.8),
    sc(2, flat(botGreenMidCols).concat(botGreenPts), SPARSE.green, 3.8),
    { type: 'custom', xAxisIndex: 4, yAxisIndex: 4, renderItem: renderVenn, silent: true, animation: false, clip: false,
      data: vennCounts.map((c, i) => [i, c]) }
  ]
};
chart.setOption(option);
</script>
</body></html>
